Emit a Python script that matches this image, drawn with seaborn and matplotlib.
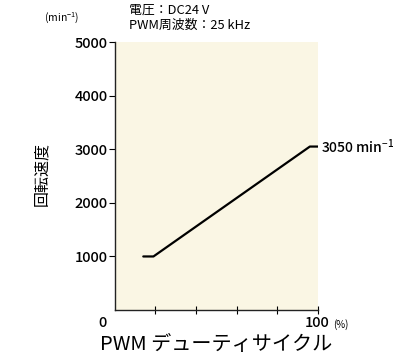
import seaborn as sns
import pandas as pd
from matplotlib import pyplot as plt

duty = [14, 19, 96, 100]
speed = [1000, 1000, 3050, 3050]
y_ticks = [1000, 2000, 3000, 4000, 5000]
x_ticks = [20, 40, 60, 80, 100]

sns.set_style("ticks")
plt.rcParams['font.family'] = ['Noto Sans CJK JP', 'DejaVu Sans']
plt.rcParams['mathtext.default'] = 'regular'
plt.rcParams['text.color'] = 'black'

fig = plt.figure(figsize=(3.96, 3.56), dpi=100)
ax = fig.add_axes([0.290, 0.129, 0.513, 0.753])
ax.set_facecolor("#faf6e4")

df = pd.DataFrame({"duty": duty, "speed": speed})
sns.lineplot(data=df, x="duty", y="speed", color="black", linewidth=1.6, ax=ax)

ax.set_xlim(0, 100)
ax.set_ylim(0, 5000)
ax.set_yticks(y_ticks)
ax.set_yticklabels([str(v) for v in y_ticks], fontsize=10.5, fontweight="medium")
ax.set_xticks(x_ticks)
ax.set_xticklabels([])
ax.tick_params(axis="y", direction="out", length=4, width=0.8, pad=1, colors="black")
ax.tick_params(axis="x", direction="inout", length=6, width=0.8, colors="black")
for s in ["top", "right"]:
    ax.spines[s].set_visible(False)
for s in ["left", "bottom"]:
    ax.spines[s].set_linewidth(1.0)
    ax.spines[s].set_color("#222222")
ax.set_xlabel("")
ax.set_ylabel("")

fig.text(0.26, 0.092, "0", fontsize=10.5, fontweight="medium", ha="center", va="center")
fig.text(0.80, 0.092, "100", fontsize=10.5, fontweight="medium", ha="center", va="center")
fig.text(0.84, 0.089, "(%)", fontsize=7, ha="left", va="center")
fig.text(0.545, 0.033, "PWM デューティサイクル", fontsize=14.5, ha="center", va="center")
fig.text(0.105, 0.51, "回転速度", fontsize=11.5, rotation=90, ha="center", va="center")
fig.text(0.155, 0.948, "(min$^{-1}$)", fontsize=7.5, ha="center", va="center")
fig.text(0.327, 0.972, "電圧：DC24 V", fontsize=9.3, ha="left", va="center")
fig.text(0.327, 0.929, "PWM周波数：25 kHz", fontsize=9.3, ha="left", va="center")
ax.text(101.5, 3050, "3050 min$^{-1}$", fontsize=10, fontweight="medium",
        ha="left", va="center", clip_on=False)

fig.savefig("out.png", dpi=100)
